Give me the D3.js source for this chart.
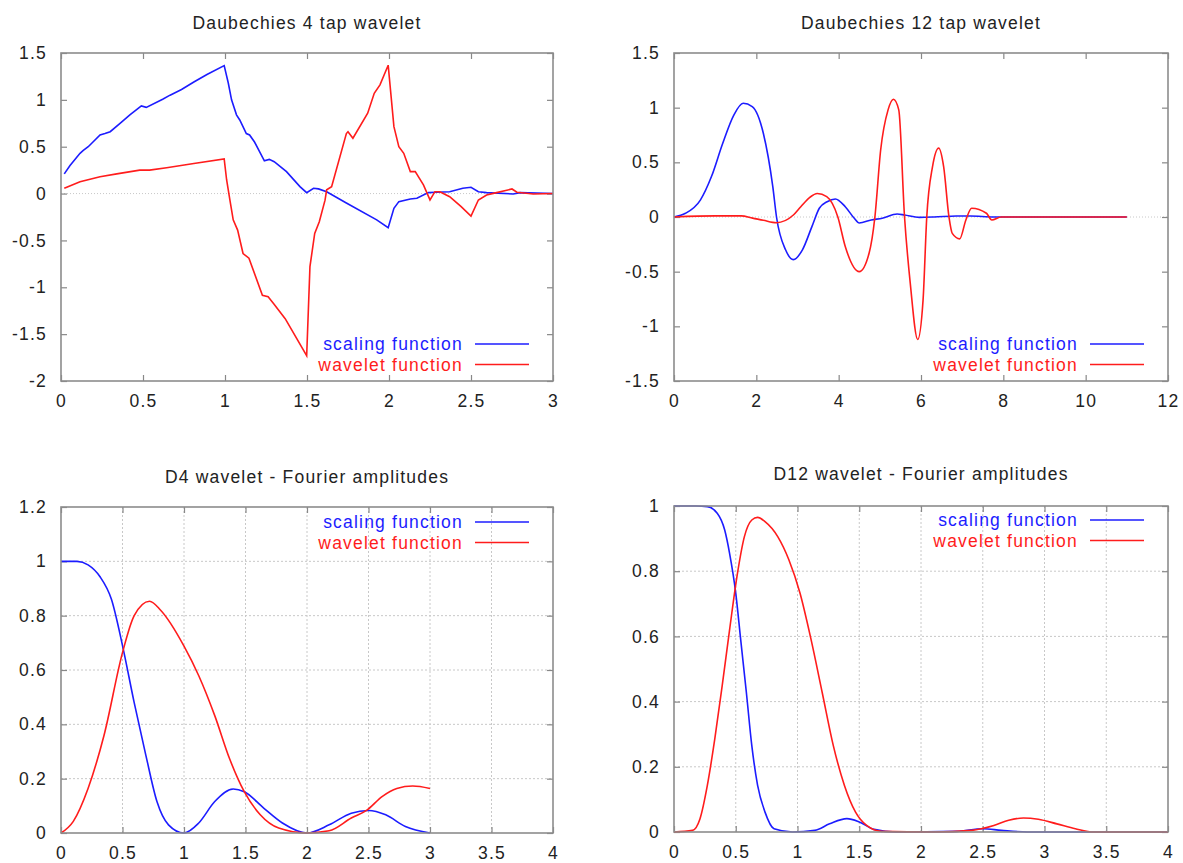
<!DOCTYPE html>
<html>
  <head>
    <script src="https://d3js.org/d3.v7.min.js"></script>
    <style>
      body {margin: 0; background: #fff;}
      svg text {font-family: "Liberation Sans", Arial, sans-serif; fill: #222; letter-spacing: 1.2px;}
      .tick line {stroke: #888; stroke-width: 1.2;}
      .tick text {font-size: 17.5px;}
      .frame {fill: none; stroke: #8c8c8c; stroke-width: 1.6;}
      .grid line {stroke: #c8c8c8; stroke-width: 1; stroke-dasharray: 2,2;}
      .zero {stroke: #c8c8c8; stroke-width: 1; stroke-dasharray: 1,2;}
      .curve {fill: none; stroke-width: 1.6;}
    </style>
  </head>
  <body>
    <svg id="chart" width="1183" height="863"></svg>
  </body>
  <script>
      // Daubechies 4 tap: scaling and wavelet function
      let d4Phi = [[0.02,0.21],[0.055,0.30],[0.116,0.43],[0.136,0.46],[0.166,0.50],[0.238,0.625],[0.268,0.64],[0.30,0.66],
          [0.36,0.75],[0.42,0.84],[0.49,0.935],[0.52,0.92],[0.62,1.006],[0.665,1.05],[0.735,1.11],[0.81,1.19],[0.89,1.27],
          [0.995,1.365],[1.02,1.18],[1.04,1.0],[1.07,0.84],[1.09,0.785],[1.13,0.64],[1.15,0.625],[1.18,0.55],[1.24,0.35],
          [1.27,0.365],[1.30,0.34],[1.375,0.234],[1.457,0.074],[1.498,0.01],[1.54,0.057],[1.57,0.05],[1.62,0.02],
          [1.74,-0.10],[1.925,-0.28],[1.995,-0.365],[2.03,-0.157],[2.06,-0.086],[2.13,-0.058],[2.17,-0.05],[2.24,0.01],
          [2.29,0.014],[2.37,0.02],[2.45,0.057],[2.50,0.067],[2.545,0.02],[2.595,0.01],[2.757,-0.004],[2.8,0.01],[3.0,0]];
      let d4Psi = [[0.02,0.057],[0.116,0.127],[0.238,0.18],[0.34,0.21],[0.48,0.25],[0.54,0.25],[0.644,0.276],[0.81,0.32],
          [0.995,0.37],[1.01,0.145],[1.03,-0.07],[1.05,-0.28],[1.077,-0.39],[1.11,-0.64],[1.146,-0.69],[1.228,-1.085],
          [1.263,-1.10],[1.297,-1.175],[1.367,-1.335],[1.498,-1.73],[1.518,-0.78],[1.547,-0.425],[1.575,-0.30],[1.61,-0.07],
          [1.62,0.04],[1.65,0.074],[1.74,0.64],[1.75,0.66],[1.78,0.59],[1.87,0.857],[1.91,1.07],[1.945,1.16],[1.995,1.37],
          [2.03,0.714],[2.06,0.50],[2.09,0.43],[2.13,0.234],[2.16,0.234],[2.21,0.092],[2.25,-0.068],[2.28,0.02],[2.31,0.02],
          [2.37,-0.033],[2.44,-0.14],[2.50,-0.24],[2.545,-0.068],[2.595,-0.015],[2.656,0.01],[2.75,0.049],[2.78,0.014],
          [2.88,-0.004],[3.0,0]];

      // Daubechies 12 tap
      let d12Phi = [[0,0],[0.28,0.034],[0.64,0.155],[0.91,0.37],[1.18,0.67],[1.45,0.93],[1.68,1.04],[1.9,1.01],[2.17,0.766],
          [2.40,0.277],[2.49,0],[2.71,-0.30],[2.9,-0.39],[3.12,-0.30],[3.35,-0.088],[3.53,0.08],[3.72,0.14],[3.92,0.165],
          [4.16,0.094],[4.38,-0.012],[4.5,-0.055],[4.79,-0.027],[5.06,-0.012],[5.42,0.027],[5.6,0.018],[5.96,-0.003],
          [6.32,0],[6.86,0.009],[7.2,0.009],[7.77,0],[11,0]];
      let d12Psi = [[0,0],[1.0,0.01],[1.63,0.01],[1.91,-0.01],[2.17,-0.03],[2.49,-0.052],[2.9,0.018],[3.08,0.094],[3.3,0.18],
          [3.48,0.215],[3.71,0.186],[3.98,0],[4.16,-0.27],[4.5,-0.50],[4.74,-0.33],[4.88,0],[5.02,0.613],[5.2,0.98],
          [5.33,1.077],[5.46,0.98],[5.6,0],[5.74,-0.61],[5.92,-1.12],[6.05,-0.76],[6.14,0],[6.28,0.46],[6.43,0.63],
          [6.55,0.46],[6.68,0],[6.76,-0.15],[6.94,-0.20],[7.09,-0.027],[7.23,0.08],[7.59,0.034],[7.72,-0.027],[7.95,0],[11,0]];

      // Fourier amplitudes
      let d4PhiFft = [[0,1.0],[0.13,1.0],[0.22,0.987],[0.316,0.944],[0.41,0.86],[0.50,0.69],[0.595,0.48],[0.69,0.286],
          [0.78,0.116],[0.874,0.03],[1.0,0],[1.12,0.037],[1.25,0.116],[1.40,0.162],[1.49,0.152],[1.65,0.091],[1.80,0.037],
          [2.0,0],[2.18,0.03],[2.36,0.073],[2.50,0.083],[2.64,0.067],[2.80,0.024],[3.0,0]];
      let d4PsiFft = [[0,0],[0.1,0.043],[0.22,0.164],[0.35,0.36],[0.50,0.664],[0.595,0.80],[0.72,0.853],[0.81,0.82],
          [1.0,0.688],[1.12,0.579],[1.25,0.432],[1.37,0.274],[1.49,0.152],[1.62,0.067],[1.77,0.018],[2.0,0],[2.18,0.008],
          [2.36,0.055],[2.49,0.085],[2.61,0.134],[2.73,0.164],[2.86,0.173],[3.0,0.164]];
      let d12PhiFft = [[0,1.0],[0.18,1.0],[0.27,0.998],[0.35,0.978],[0.41,0.927],[0.45,0.855],[0.50,0.733],[0.54,0.59],
          [0.586,0.428],[0.63,0.265],[0.677,0.143],[0.737,0.061],[0.81,0.01],[0.96,0],[1.14,0.005],[1.26,0.025],[1.40,0.041],
          [1.50,0.031],[1.62,0.008],[1.80,0],[2.29,0.002],[2.50,0.010],[2.65,0.005],[2.86,0],[4.0,0]];
      let d12PsiFft = [[0,0],[0.15,0.005],[0.21,0.04],[0.27,0.143],[0.33,0.285],[0.39,0.448],[0.45,0.62],[0.51,0.784],
          [0.57,0.906],[0.63,0.957],[0.677,0.965],[0.737,0.952],[0.84,0.906],[0.93,0.835],[1.02,0.733],[1.11,0.59],
          [1.20,0.428],[1.29,0.265],[1.38,0.143],[1.47,0.061],[1.56,0.02],[1.68,0.002],[2.1,0],[2.41,0.005],[2.59,0.02],
          [2.71,0.036],[2.83,0.043],[2.95,0.039],[3.10,0.025],[3.25,0.01],[3.40,0],[4.0,0]];

      let titles = ["Daubechies 4 tap wavelet", "Daubechies 12 tap wavelet",
                    "D4 wavelet - Fourier amplitudes", "D12 wavelet - Fourier amplitudes"];
      let legendLabels = ["scaling function", "wavelet function"];
      let seriesColors = ["#1c1cff", "#ff1c1c"];

      let xTicksD4 = [0, 0.5, 1, 1.5, 2, 2.5, 3];
      let yTicksD4 = [-2, -1.5, -1, -0.5, 0, 0.5, 1, 1.5];
      let xTicksD12 = [0, 2, 4, 6, 8, 10, 12];
      let yTicksD12 = [-1.5, -1, -0.5, 0, 0.5, 1, 1.5];
      let xTicksFft = [0, 0.5, 1, 1.5, 2, 2.5, 3, 3.5, 4];
      let yTicksFft4 = [0, 0.2, 0.4, 0.6, 0.8, 1, 1.2];
      let yTicksFft12 = [0, 0.2, 0.4, 0.6, 0.8, 1];

      let svg = d3.select("#chart");

      let panels = [
          {title: titles[0], box: {l: 61, r: 553, t: 53, b: 381}, xd: [0, 3], yd: [-2, 1.5],
           xt: xTicksD4, yt: yTicksD4, series: [d4Phi, d4Psi], curve: d3.curveLinear, grid: false,
           titleY: 29, legendY: 344},
          {title: titles[1], box: {l: 674, r: 1168, t: 53, b: 381}, xd: [0, 12], yd: [-1.5, 1.5],
           xt: xTicksD12, yt: yTicksD12, series: [d12Phi, d12Psi], curve: d3.curveMonotoneX, grid: false,
           titleY: 29, legendY: 344},
          {title: titles[2], box: {l: 61, r: 553, t: 507, b: 833}, xd: [0, 4], yd: [0, 1.2],
           xt: xTicksFft, yt: yTicksFft4, series: [d4PhiFft, d4PsiFft], curve: d3.curveMonotoneX, grid: true,
           titleY: 483, legendY: 522},
          {title: titles[3], box: {l: 674, r: 1168, t: 506, b: 832}, xd: [0, 4], yd: [0, 1],
           xt: xTicksFft, yt: yTicksFft12, series: [d12PhiFft, d12PsiFft], curve: d3.curveMonotoneX, grid: true,
           titleY: 480, legendY: 520}
      ];

      function drawPanel(p) {
          let b = p.box;
          let x = d3.scaleLinear().domain(p.xd).range([b.l, b.r]);
          let y = d3.scaleLinear().domain(p.yd).range([b.b, b.t]);
          let g = svg.append("g");
          let fmt = d => String(d);

          if (p.grid) {
              let grid = g.append("g").attr("class", "grid");
              grid.selectAll("line.gx").data(p.xt.slice(1, -1)).enter().append("line")
                  .attr("x1", d => x(d)).attr("x2", d => x(d)).attr("y1", b.t).attr("y2", b.b);
              grid.selectAll("line.gy").data(p.yt.slice(1, -1)).enter().append("line")
                  .attr("y1", d => y(d)).attr("y2", d => y(d)).attr("x1", b.l).attr("x2", b.r);
          } else {
              g.append("line").attr("class", "zero")
                  .attr("x1", b.l).attr("x2", b.r).attr("y1", y(0)).attr("y2", y(0));
          }

          // axes with inward ticks, mirrored on top and right
          g.append("g").attr("transform", `translate(0,${b.b})`)
              .call(d3.axisBottom(x).tickValues(p.xt).tickFormat(fmt).tickSize(-6).tickPadding(14));
          g.append("g").attr("transform", `translate(0,${b.t})`)
              .call(d3.axisTop(x).tickValues(p.xt).tickFormat("").tickSize(-6));
          g.append("g").attr("transform", `translate(${b.l},0)`)
              .call(d3.axisLeft(y).tickValues(p.yt).tickFormat(fmt).tickSize(-6).tickPadding(14));
          g.append("g").attr("transform", `translate(${b.r},0)`)
              .call(d3.axisRight(y).tickValues(p.yt).tickFormat("").tickSize(-6));
          g.selectAll(".domain").remove();
          g.selectAll(".tick text").attr("fill", "#222").attr("font-family", null).attr("font-size", null);

          let line = d3.line().x(d => x(d[0])).y(d => y(d[1])).curve(p.curve);
          g.selectAll("path.curve").data(p.series).enter().append("path")
              .attr("class", "curve").attr("d", line)
              .attr("stroke", (d, i) => seriesColors[i]);

          g.append("rect").attr("class", "frame")
              .attr("x", b.l).attr("y", b.t).attr("width", b.r - b.l).attr("height", b.b - b.t);

          g.append("text").attr("x", (b.l + b.r) / 2).attr("y", p.titleY)
              .attr("text-anchor", "middle").style("font-size", "17.5px").text(p.title);

          // legend
          legendLabels.forEach((label, i) => {
              let ly = p.legendY + i * 20.5;
              g.append("text").attr("x", b.r - 90).attr("y", ly + 6)
                  .attr("text-anchor", "end").style("font-size", "17.5px")
                  .style("fill", seriesColors[i]).text(label);
              g.append("line").attr("x1", b.r - 78).attr("x2", b.r - 24)
                  .attr("y1", ly).attr("y2", ly)
                  .attr("stroke", seriesColors[i]).attr("stroke-width", 1.6);
          });
      }

      panels.forEach(drawPanel);
  </script>
</html>
